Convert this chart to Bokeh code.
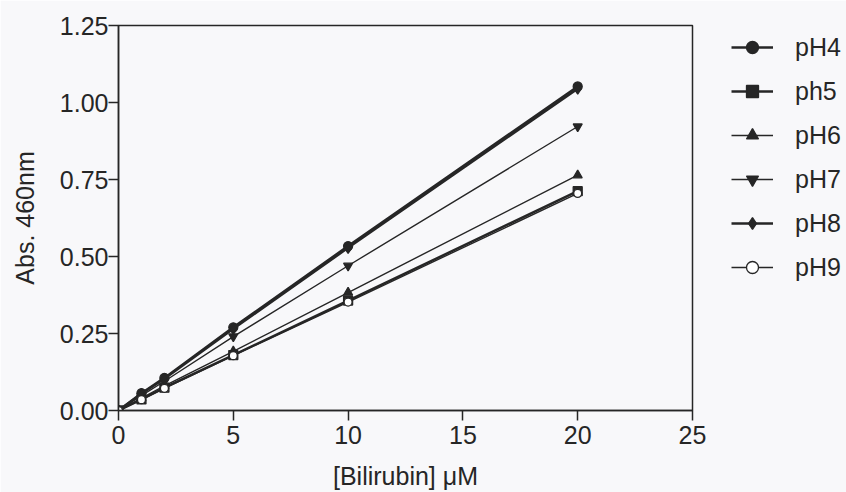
from bokeh.plotting import figure
from bokeh.models import Legend, LegendItem, FixedTicker, NumeralTickFormatter, Range1d
from bokeh.embed import file_html
from bokeh.resources import INLINE

# Bilirubin concentration (uM) and absorbance at 460 nm per pH
conc = [0, 1, 2, 5, 10, 20]
ph4 = [0.0, 0.056, 0.106, 0.270, 0.534, 1.052]
ph5 = [0.0, 0.036, 0.074, 0.180, 0.357, 0.712]
ph6 = [0.0, 0.040, 0.080, 0.192, 0.383, 0.764]
ph7 = [0.0, 0.048, 0.095, 0.240, 0.470, 0.922]
ph8 = [0.0, 0.054, 0.103, 0.265, 0.528, 1.045]
ph9 = [0.0, 0.035, 0.072, 0.178, 0.352, 0.705]

labels = ["pH4", "ph5", "pH6", "pH7", "pH8", "pH9"]
x_ticks = [0, 5, 10, 15, 20, 25]
y_ticks = [0.0, 0.25, 0.5, 0.75, 1.0, 1.25]

FONT = "Liberation Sans"
INK = "#262626"
BG = "#f8f8fa"

p = figure(output_backend="svg", toolbar_location=None,
           x_range=Range1d(0, 25), y_range=Range1d(0, 1.25),
           frame_width=574, frame_height=385,
           min_border_left=118, min_border_right=0, min_border_top=25, min_border_bottom=82)
p.background_fill_color = BG
p.border_fill_color = BG
p.outline_line_color = INK
p.outline_line_width = 1.5
p.xgrid.visible = False
p.ygrid.visible = False

for ax in (p.xaxis[0], p.yaxis[0]):
    ax.axis_line_color = INK
    ax.axis_line_width = 1.5
    ax.major_tick_line_color = INK
    ax.major_tick_line_width = 1.5
    ax.major_tick_in = 0
    ax.major_tick_out = 10
    ax.minor_tick_line_color = None
    ax.major_label_text_font = FONT
    ax.major_label_text_font_size = "25px"
    ax.major_label_text_color = INK
    ax.axis_label_text_font = FONT
    ax.axis_label_text_font_style = "normal"
    ax.axis_label_text_font_size = "25px"
    ax.axis_label_text_color = INK

p.xaxis.ticker = FixedTicker(ticks=x_ticks)
p.yaxis.ticker = FixedTicker(ticks=y_ticks)
p.yaxis.formatter = NumeralTickFormatter(format="0.00")
p.xaxis.axis_label = "[Bilirubin] μM"
p.yaxis.axis_label = "Abs. 460nm"
p.xaxis.major_label_standoff = 5
p.yaxis.major_label_standoff = 0
p.xaxis.axis_label_standoff = 15
p.yaxis.axis_label_standoff = 18

series = [ph4, ph5, ph6, ph7, ph8, ph9]
markers = ["circle", "square", "triangle", "inverted_triangle", "diamond", "circle"]
sizes = [9, 9, 9, 9, 11, 8]
widths = [2.4, 2.4, 1.4, 1.4, 2.4, 1.4]
fills = [INK, INK, INK, INK, INK, "white"]

items = []
for lab, ys, mk, sz, lw, fc in zip(labels, series, markers, sizes, widths, fills):
    ln = p.line(conc, ys, line_color=INK, line_width=lw)
    sc = p.scatter(conc, ys, marker=mk, size=sz, line_color=INK, fill_color=fc, line_width=1.3)
    items.append(LegendItem(label=lab, renderers=[ln, sc]))

legend = Legend(items=items, location=(39, 128))
legend.background_fill_alpha = 0
legend.border_line_color = None
legend.label_text_font = FONT
legend.label_text_font_size = "25px"
legend.label_text_color = INK
legend.glyph_width = 42
legend.glyph_height = 30
legend.spacing = 14
legend.label_standoff = 22
legend.padding = 0
legend.margin = 0
p.add_layout(legend, "right")
p.min_border_right = 154

open("out.html", "w").write(file_html(p, INLINE))
